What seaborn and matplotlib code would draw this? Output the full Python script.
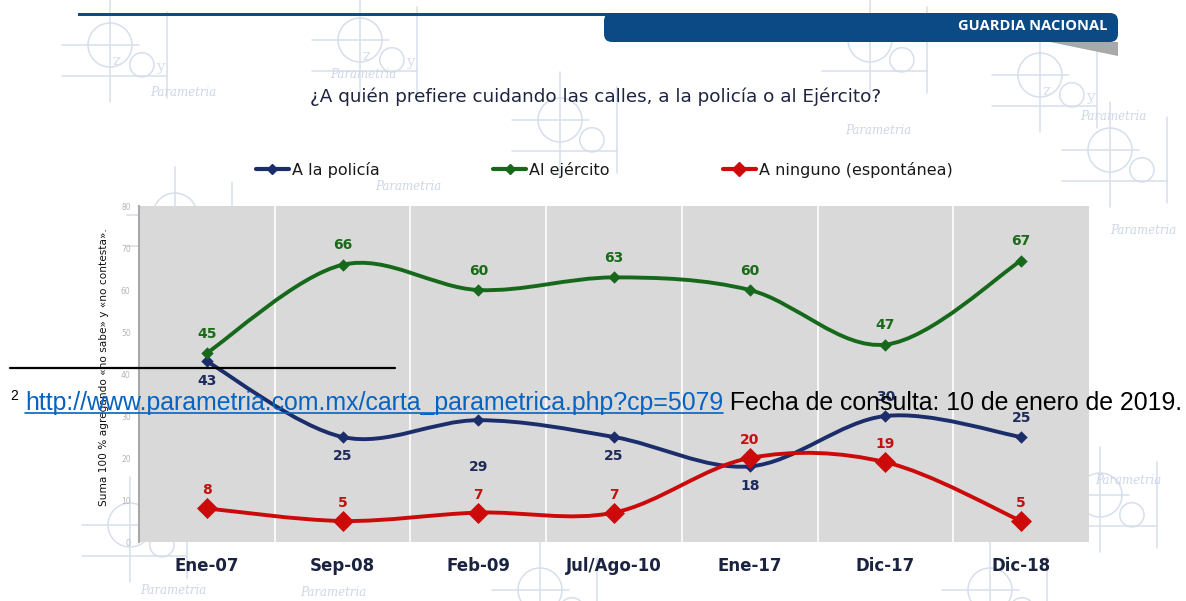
import numpy as np
import pandas as pd
import matplotlib
matplotlib.use("Agg")
import matplotlib.pyplot as plt
import seaborn as sns
from matplotlib.path import Path
from matplotlib.patches import PathPatch, FancyBboxPatch, Circle, Polygon
from matplotlib.lines import Line2D

### Datos
periodos = ["Ene-07", "Sep-08", "Feb-09", "Jul/Ago-10", "Ene-17", "Dic-17", "Dic-18"]
policia = [43, 25, 29, 25, 18, 30, 25]
ejercito = [45, 66, 60, 63, 60, 47, 67]
ninguno = [8, 5, 7, 7, 20, 19, 5]
series = ["A la policía", "Al ejército", "A ninguno (espontánea)"]

titulo = "¿A quién prefiere cuidando las calles, a la policía o al Ejército?"
nota_y = "Suma 100 % agregando «no sabe» y «no contesta»."
enlace = "http://www.parametria.com.mx/carta_parametrica.php?cp=5079"
fecha = " Fecha de consulta: 10 de enero de 2019."
encabezado = "GUARDIA NACIONAL"

### Estilo
colores = {"A la policía": "#1b2d6b", "Al ejército": "#16691a", "A ninguno (espontánea)": "#cc0a0a"}
col_etq = {"A la policía": "#1d2a5a", "Al ejército": "#1a6a1a", "A ninguno (espontánea)": "#c41010"}
tam_marca = {"A la policía": 40, "Al ejército": 40, "A ninguno (espontánea)": 115}
# desplazamiento vertical de las etiquetas (pt): + arriba, - abajo
despl = {"A la policía": [-14, -14, -34, -14, -14, 14, 14],
         "Al ejército": [14] * 7,
         "A ninguno (espontánea)": [13] * 7}

dados = pd.DataFrame({
    "periodo": periodos * 3,
    "pos": list(range(len(periodos))) * 3,
    "valor": policia + ejercito + ninguno,
    "serie": [s for s in series for _ in periodos],
})

sns.set_style("white")
plt.rcParams["font.family"] = ["DejaVu Sans"]

W, H = 1186, 601
fig = plt.figure(figsize=(W / 100, H / 100), dpi=100)
fig.patch.set_facecolor("white")

### Fondo (marca de agua y encabezado) en coordenadas de pixel
fondo = fig.add_axes([0, 0, 1, 1], zorder=0)
fondo.set_xlim(0, W)
fondo.set_ylim(H, 0)
fondo.axis("off")

wm = "#d6dfeb"
def motivo(cx, cy, r=22, letras=True):
    kw = dict(color=wm, lw=1.1, zorder=1)
    fondo.add_patch(Circle((cx, cy), r, fill=False, ec=wm, lw=1.1, zorder=1))
    fondo.add_patch(Circle((cx + r * 1.45, cy + r * 0.9), r * 0.55, fill=False, ec=wm, lw=1.1, zorder=1))
    fondo.plot([cx - r * 2.2, cx + r * 1.3], [cy, cy], **kw)
    fondo.plot([cx - r * 2.2, cx + r * 2.6], [cy + r * 1.4, cy + r * 1.4], **kw)
    fondo.plot([cx, cx], [cy - r * 2.2, cy + r * 2.6], **kw)
    fondo.plot([cx + r * 2.6, cx + r * 2.6], [cy - r * 1.5, cy + r * 2.4], **kw)
    if letras:
        fondo.text(cx + r * 0.1, cy + r * 0.9, "z", color=wm, fontsize=11, family="DejaVu Serif")
        fondo.text(cx + r * 2.1, cy + r * 1.2, "y", color=wm, fontsize=11, family="DejaVu Serif")

for cx, cy, l in [(110, 45, True), (360, 40, True), (560, 120, False), (1040, 75, True),
                  (1110, 150, False), (175, 215, False), (1100, 495, False), (130, 525, False),
                  (540, 590, False), (990, 590, False), (870, 40, False)]:
    motivo(cx, cy, letras=l)

for tx, ty in [(330, 75), (150, 92), (375, 187), (845, 130), (1080, 117), (1110, 230),
               (1095, 480), (140, 590), (300, 593)]:
    fondo.text(tx, ty, "Parametria", color="#cdd6e6", fontsize=8.5, style="italic",
               family="DejaVu Serif", va="center", zorder=1)

# encabezado azul
fondo.add_patch(Polygon([[1050, 42], [1118, 42], [1118, 56]], closed=True, fc="#a9a9a9", ec="none", zorder=5))
fondo.add_patch(FancyBboxPatch((78, 13), 540, 3, boxstyle="square,pad=0", fc="#134a84", ec="none", zorder=5))
fondo.add_patch(FancyBboxPatch((604, 13), 514, 29, boxstyle="round,pad=0,rounding_size=8",
                               fc="#0c4a85", ec="none", zorder=5))
fondo.text(1108, 26, encabezado, color="white", fontsize=10.5, fontweight="bold",
           ha="right", va="center", family="Open Sans", zorder=6)

fondo.text(596, 97, titulo, color="#1d2440", fontsize=13.2, ha="center", va="center", zorder=6)
fondo.text(104, 367, nota_y, color="#111111", fontsize=7.6, rotation=90, ha="center", va="center",
           zorder=6)

### Gráfico
ax = fig.add_axes([139 / W, 1 - 542 / H, 950 / W, 336 / H], zorder=2)
ax.set_facecolor("#d9d9d9")

def curva_suave(x, y):
    pts = np.column_stack([np.asarray(x, float), np.asarray(y, float)])
    ext = np.vstack([pts[0], pts, pts[-1]])
    verts, codes = [pts[0]], [Path.MOVETO]
    for i in range(len(pts) - 1):
        p0, p1, p2, p3 = ext[i], ext[i + 1], ext[i + 2], ext[i + 3]
        verts += [p1 + (p2 - p0) / 6, p2 - (p3 - p1) / 6, p2]
        codes += [Path.CURVE4] * 3
    return Path(verts, codes)

for s in series:
    sub = dados[dados["serie"] == s]
    ax.add_patch(PathPatch(curva_suave(sub["pos"], sub["valor"]), fill=False,
                           ec=colores[s], lw=2.8, zorder=3, capstyle="round"))
    sns.scatterplot(data=sub, x="pos", y="valor", color=colores[s], marker="D",
                    s=tam_marca[s], linewidth=0, ax=ax, zorder=4, legend=False)
    for (_, fila), d in zip(sub.iterrows(), despl[s]):
        ax.annotate(str(fila["valor"]), (fila["pos"], fila["valor"]), xytext=(0, d),
                    textcoords="offset points", ha="center", va="center",
                    fontsize=10, fontweight="bold", color=col_etq[s], zorder=5)

ax.set_xlim(-0.5, len(periodos) - 0.5)
ax.set_ylim(0, 80)
ax.set_xticks(range(len(periodos)))
ax.set_xticklabels(periodos, fontsize=12, fontweight="bold", color="#1b2340")
ax.set_xticks(np.arange(0.5, len(periodos) - 1, 1), minor=True)
ax.set_yticks(range(0, 81, 10))
ax.tick_params(axis="x", which="both", length=0, pad=11)
ax.tick_params(axis="y", length=4, color="#b8b8b8", labelsize=5.5, labelcolor="#b5b5b5", pad=2)
ax.grid(False)
ax.grid(which="minor", axis="x", color="white", lw=1.2)
ax.set_xlabel("")
ax.set_ylabel("")
for lado_ax in ["top", "right", "bottom"]:
    ax.spines[lado_ax].set_visible(False)
ax.spines["left"].set_color("#a8a8a8")
ax.spines["left"].set_linewidth(1.5)

manijas = [Line2D([0], [0], color=colores[s], lw=3, marker="D",
                  ms=(5 if tam_marca[s] < 100 else 7)) for s in series]
fig.legend(manijas, series, loc="center", bbox_to_anchor=(604 / W, 1 - 170 / H), ncol=3,
           frameon=False, fontsize=11.5, columnspacing=7.1, handlelength=2.1, handletextpad=0.15,
           labelcolor="#1a1a1a")

### Nota al pie superpuesta
frente = fig.add_axes([0, 0, 1, 1], zorder=10)
frente.set_xlim(0, W)
frente.set_ylim(H, 0)
frente.axis("off")
frente.patch.set_alpha(0)
frente.plot([10, 395], [368, 368], color="black", lw=1.6)
frente.text(10, 400, "2", fontsize=10, color="black", va="baseline", family="Liberation Sans")

# ajustar el tamaño de letra para que la nota ocupe el mismo ancho
r = fig.canvas.get_renderer()
prueba = frente.text(0, 0, enlace + fecha, fontsize=15.5, family="Liberation Sans")
ancho = prueba.get_window_extent(r).width
prueba.remove()
tam = 15.5 * (1158 / ancho)

t1 = frente.text(25, 410, enlace, fontsize=tam, color="#0563c1", va="baseline",
                 family="Liberation Sans")
bb = t1.get_window_extent(r)
inv = frente.transData.inverted()
(x0, _), (x1, _) = inv.transform([[bb.x0, bb.y0], [bb.x1, bb.y0]])
frente.plot([x0, x1], [413, 413], color="#0563c1", lw=1.2)
frente.text(x1, 410, fecha, fontsize=tam, color="black", va="baseline", family="Liberation Sans")

fig.savefig("out.png", dpi=100)
